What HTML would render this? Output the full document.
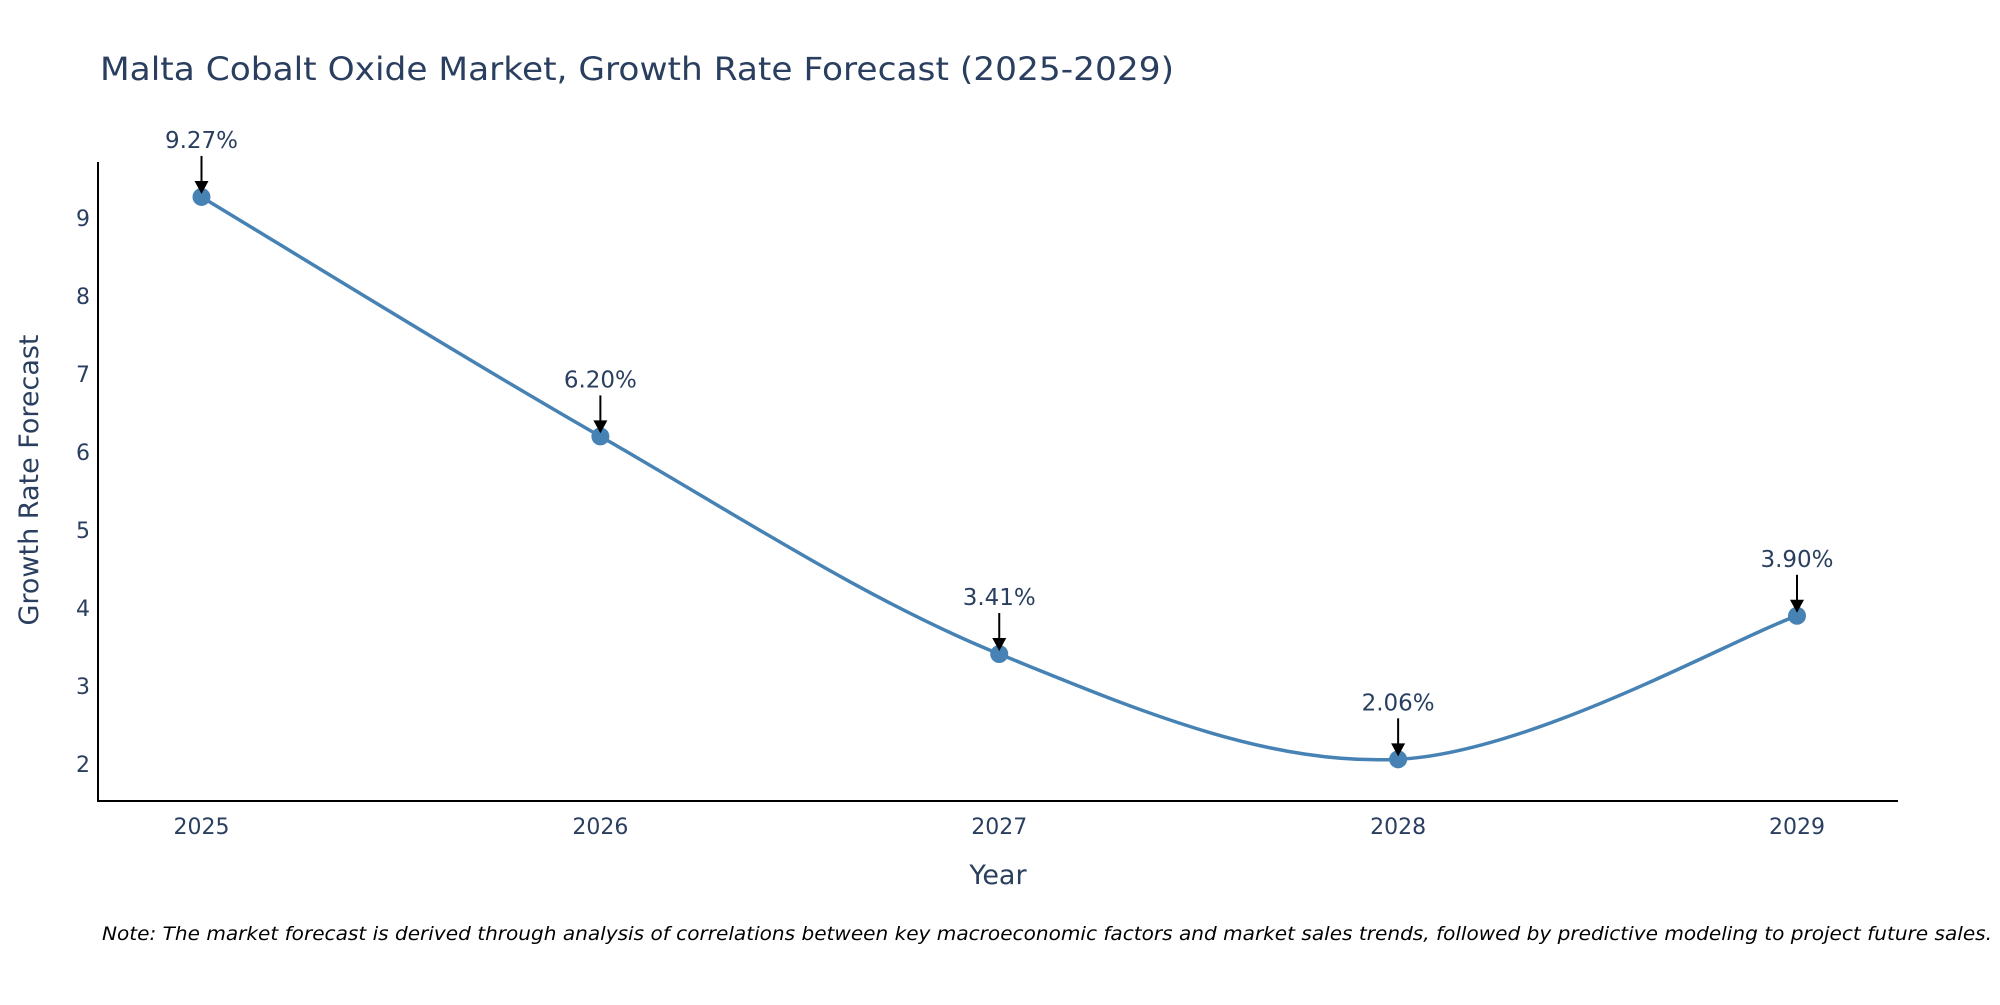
<!DOCTYPE html>
<html><head><meta charset="utf-8"><style>
body{margin:0;background:#fff;}
svg text{font-family:"DejaVu Sans","Liberation Sans",sans-serif;}
</style></head><body>
<svg id="chart" width="2000" height="1000" xmlns="http://www.w3.org/2000/svg">
<text x="100" y="80" font-size="32" fill="#2a3f5f" textLength="1074" lengthAdjust="spacingAndGlyphs">Malta Cobalt Oxide Market, Growth Rate Forecast (2025-2029)</text>
<g id="plot"></g>
<text x="998" y="884" font-size="27" fill="#2a3f5f" text-anchor="middle">Year</text>
<text transform="translate(38,480) rotate(-90)" font-size="27" fill="#2a3f5f" text-anchor="middle">Growth Rate Forecast</text>
<text x="102" y="940" font-size="19" font-style="italic" fill="#000" textLength="1890" lengthAdjust="spacingAndGlyphs">Note: The market forecast is derived through analysis of correlations between key macroeconomic factors and market sales trends, followed by predictive modeling to project future sales.</text>
</svg>
<script>
const years=[2025,2026,2027,2028,2029];
const values=[9.27,6.20,3.41,2.06,3.90];
const labels=["9.27%","6.20%","3.41%","2.06%","3.90%"];
const yTicks=[2,3,4,5,6,7,8,9];
const NS="http://www.w3.org/2000/svg";
const g=document.getElementById('plot');
const L=98,R=1898,T=162,B=801;
const xs=y=>201.5+(y-2025)*(1797-201.5)/4;
const ys=v=>764-(v-2)*78;
function el(t,a){const e=document.createElementNS(NS,t);for(const k in a)e.setAttribute(k,a[k]);g.appendChild(e);return e;}
let ax=el('line',{x1:L,y1:T,x2:L,y2:B+1,stroke:'#000','stroke-width':2});


ax=el('line',{x1:L-1,y1:B,x2:R,y2:B,stroke:'#000','stroke-width':2});


yTicks.forEach(v=>{const t=el('text',{x:90,y:ys(v)+8,'font-size':22,fill:'#2a3f5f','text-anchor':'end'});t.textContent=v;

});
years.forEach(y=>{const t=el('text',{x:xs(y),y:834,'font-size':22,fill:'#2a3f5f','text-anchor':'middle'});t.textContent=y;

});
const P=years.map((y,i)=>[xs(y),ys(values[i])]);
let d=`M${P[0][0]},${P[0][1]}`;
for(let i=0;i<P.length-1;i++){const p0=P[Math.max(0,i-1)],p1=P[i],p2=P[i+1],p3=P[Math.min(P.length-1,i+2)];const k=1/6;
d+=` C${p1[0]+(p2[0]-p0[0])*k},${p1[1]+(p2[1]-p0[1])*k} ${p2[0]-(p3[0]-p1[0])*k},${p2[1]-(p3[1]-p1[1])*k} ${p2[0]},${p2[1]}`;}
const line=el('path',{d:d,fill:'none',stroke:'#4682b4','stroke-width':3.5});


P.forEach((p,i)=>{const c=el('circle',{cx:p[0],cy:p[1],r:9,fill:'#4682b4'});


const a=el('line',{x1:p[0],y1:p[1]-41,x2:p[0],y2:p[1]-12,stroke:'#000','stroke-width':2});


const h=el('polygon',{points:`${p[0]-7},${p[1]-16} ${p[0]+7},${p[1]-16} ${p[0]},${p[1]-3}`,fill:'#000'});


const t=el('text',{x:p[0],y:p[1]-49,'font-size':23,fill:'#2a3f5f','text-anchor':'middle'});t.textContent=labels[i];

});
</script>
</body></html>
